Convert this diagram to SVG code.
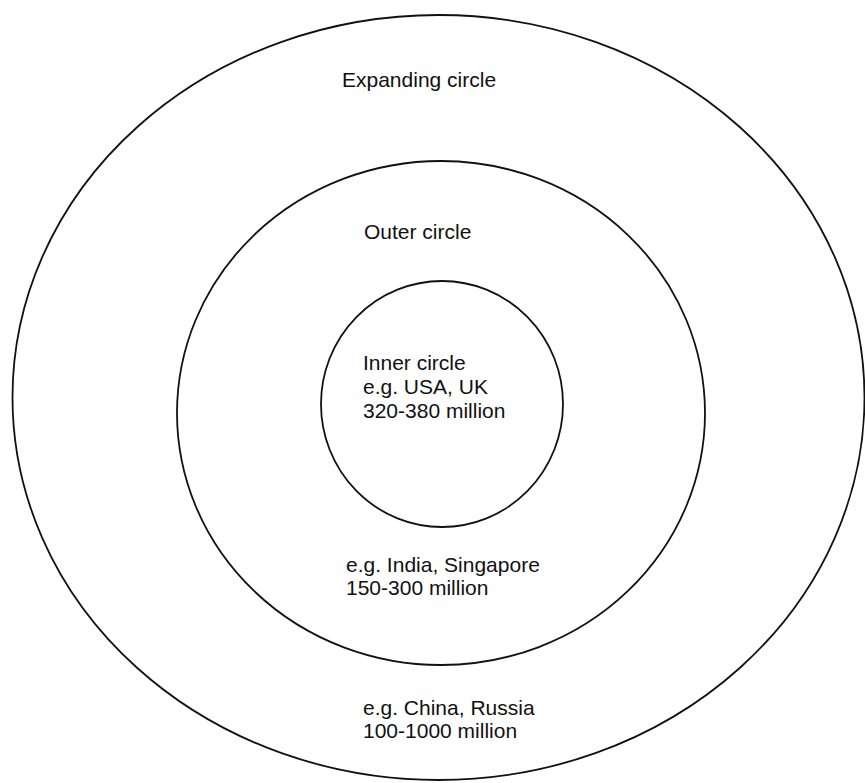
<svg xmlns="http://www.w3.org/2000/svg" width="865" height="783" viewBox="0 0 865 783">
<style>
.ring{fill:none;stroke:#111;stroke-width:1.8}
.lbl{font-family:"Liberation Sans",Arial,sans-serif;font-size:21px;fill:#111}
</style>
<rect width="865" height="783" fill="#fff"/>
<g id="expanding-circle">
<ellipse class="ring" cx="438.5" cy="397.5" rx="426" ry="382.5"/>
<text class="lbl" x="342" y="87">Expanding circle</text>
<text class="lbl" x="363" y="715">e.g. China, Russia</text>
<text class="lbl" x="363" y="738">100-1000 million</text>
</g>
<g id="outer-circle">
<ellipse class="ring" cx="441" cy="413" rx="264" ry="252"/>
<text class="lbl" x="364" y="239">Outer circle</text>
<text class="lbl" x="346" y="572">e.g. India, Singapore</text>
<text class="lbl" x="346" y="595">150-300 million</text>
</g>
<g id="inner-circle">
<ellipse class="ring" cx="442" cy="404" rx="121" ry="123"/>
<text class="lbl" x="363" y="370">Inner circle</text>
<text class="lbl" x="363" y="394">e.g. USA, UK</text>
<text class="lbl" x="363" y="418">320-380 million</text>
</g>
<g id="connectors"/>
</svg>
